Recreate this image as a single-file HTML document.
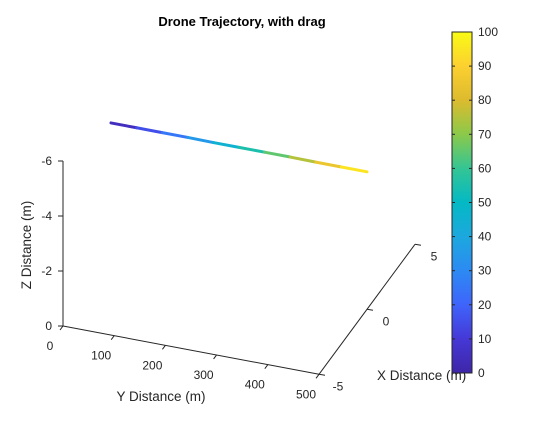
<!DOCTYPE html>
<html><head><meta charset="utf-8"><style>
body{margin:0;background:#fff;}
svg text{font-family:"Liberation Sans",Arial,sans-serif;}
</style></head><body>
<svg id="chart" width="560" height="420" xmlns="http://www.w3.org/2000/svg">
<defs>
<linearGradient id="parula" x1="0" y1="1" x2="0" y2="0">
<stop offset="0" stop-color="#3e26a8"/><stop offset="0.1" stop-color="#4538d6"/>
<stop offset="0.2" stop-color="#3f64fb"/><stop offset="0.3" stop-color="#2c8af3"/>
<stop offset="0.4" stop-color="#1ca8de"/><stop offset="0.5" stop-color="#04b9c4"/>
<stop offset="0.6" stop-color="#34c594"/><stop offset="0.7" stop-color="#8bc94a"/>
<stop offset="0.8" stop-color="#dcbb2e"/><stop offset="0.9" stop-color="#fcd030"/>
<stop offset="1" stop-color="#f9fb15"/>
</linearGradient>
</defs>
<text x="242" y="26" font-size="13" font-weight="bold" text-anchor="middle" fill="#000">Drone Trajectory, with drag</text>
<g id="axes" stroke="#262626" stroke-width="1" fill="none"></g>
<g id="labels" font-size="12" fill="#262626"></g>
<g id="series"></g>
<rect x="452" y="32" width="20" height="341" fill="url(#parula)" stroke="#262626" stroke-width="1"/>
<g id="cbar" font-size="12" fill="#262626"></g>
</svg>
<script>
const yTicks=[0,100,200,300,400,500];
const xTicks=[-5,0,5];
const zTicks=[0,-2,-4,-6];
const cTicks=[0,10,20,30,40,50,60,70,80,90,100];
const trajY=[0,50,100,150,200,250,300,350,400,450,500];
const trajX=[0,0,0,0,0,0,0,0,0,0,0];
const trajZ=[-5.02,-5.02,-5.02,-5.02,-5.01,-5.01,-5.01,-5.01,-5.0,-5.0,-5.0];
const trajC=[0,10,20,30,40,50,60,70,80,90,100];
const NS='http://www.w3.org/2000/svg';
function proj(Y,X,Z){return [63+Y*0.512+(X+5)*9.6, 326+Y*0.0966-(X+5)*13+Z*27.5];}
const stops=[[0,'#3e26a8'],[0.1,'#4538d6'],[0.2,'#3f64fb'],[0.3,'#2c8af3'],[0.4,'#1ca8de'],[0.5,'#04b9c4'],[0.6,'#34c594'],[0.7,'#8bc94a'],[0.8,'#dcbb2e'],[0.9,'#fcd030'],[1,'#f9fb15']];
function hex(h){return [1,3,5].map(i=>parseInt(h.substr(i,2),16));}
function cmap(t){t=Math.max(0,Math.min(1,t));for(let i=1;i<stops.length;i++){if(t<=stops[i][0]){const a=hex(stops[i-1][1]),b=hex(stops[i][1]);const f=(t-stops[i-1][0])/(stops[i][0]-stops[i-1][0]);return 'rgb('+a.map((v,k)=>Math.round(v+(b[k]-v)*f)).join(',')+')';}}return stops[10][1];}
function el(tag,attrs,parent){const e=document.createElementNS(NS,tag);for(const k in attrs)e.setAttribute(k,attrs[k]);parent.appendChild(e);return e;}
const ax=document.getElementById('axes'),lb=document.getElementById('labels');
let p0=proj(0,-5,0),p1=proj(0,-5,-6);
let l=el('line',{x1:p0[0],y1:p0[1],x2:p1[0],y2:p1[1]},ax);


zTicks.forEach(z=>{const p=proj(0,-5,z);el('line',{x1:p[0],y1:p[1],x2:p[0]-5,y2:p[1]},ax);
const t=el('text',{x:p[0]-11,y:p[1]+4,'text-anchor':'end'},lb);t.textContent=z;

});
p1=proj(500,-5,0);
l=el('line',{x1:p0[0],y1:p0[1],x2:p1[0],y2:p1[1]},ax);


yTicks.forEach(y=>{const p=proj(y,-5,0);el('line',{x1:p[0],y1:p[1],x2:p[0]-3,y2:p[1]+4},ax);
const t=el('text',{x:p[0]-13,y:p[1]+24,'text-anchor':'middle'},lb);t.textContent=y;

});
p0=proj(500,-5,0);p1=proj(500,5,0);
l=el('line',{x1:p0[0],y1:p0[1],x2:p1[0],y2:p1[1]},ax);


xTicks.forEach(x=>{const p=proj(500,x,0);el('line',{x1:p[0],y1:p[1],x2:p[0]+6,y2:p[1]+1},ax);
const t=el('text',{x:p[0]+19,y:p[1]+16,'text-anchor':'middle'},lb);t.textContent=x;

});
let t=el('text',{x:161,y:401,'text-anchor':'middle','font-size':'13.5'},lb);t.textContent='Y Distance (m)';


t=el('text',{x:377,y:380,'font-size':'13.5'},lb);t.textContent='X Distance (m)';


t=el('text',{x:0,y:0,'text-anchor':'middle','font-size':'13.5',transform:'translate(31,245) rotate(-90)'},lb);t.textContent='Z Distance (m)';


const sr=document.getElementById('series');
for(let i=0;i<trajY.length-1;i++){
 const a=proj(trajY[i],trajX[i],trajZ[i]),b=proj(trajY[i+1],trajX[i+1],trajZ[i+1]);
 const s=el('line',{x1:a[0],y1:a[1],x2:b[0],y2:b[1],stroke:cmap((trajC[i]+trajC[i+1])/200),'stroke-width':3,'stroke-linecap':'round'},sr);
 
 
}
const cb=document.getElementById('cbar');
cTicks.forEach(c=>{const y=373-c/100*341;
el('line',{x1:452,y1:y,x2:455,y2:y,stroke:'#262626'},cb);el('line',{x1:469,y1:y,x2:472,y2:y,stroke:'#262626'},cb);
const tt=el('text',{x:478,y:y+4},cb);tt.textContent=c;

});
</script>
</body></html>
